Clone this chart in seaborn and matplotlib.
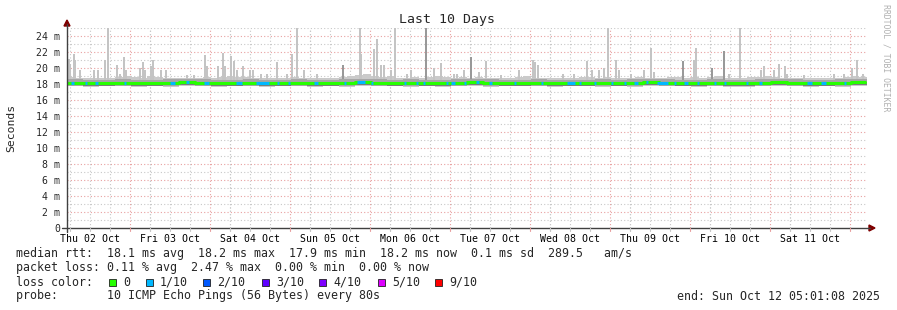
import numpy as np
import pandas as pd
import matplotlib
matplotlib.use("Agg")
import matplotlib.pyplot as plt
from matplotlib.patches import Polygon, Rectangle
from matplotlib.lines import Line2D
import seaborn as sns

# ---------------- data (hours since start: Thu 02 Oct 05:01:08) ----------------
day_labels = ["Thu 02 Oct", "Fri 03 Oct", "Sat 04 Oct", "Sun 05 Oct", "Mon 06 Oct",
              "Tue 07 Oct", "Wed 08 Oct", "Thu 09 Oct", "Fri 10 Oct", "Sat 11 Oct"]
first_midnight_h = 18.981          # Fri 03 Oct 00:00 relative to start
y_ticks_ms = [0, 2, 4, 6, 8, 10, 12, 14, 16, 18, 20, 24, 22]

# upper edge of the typical smoke (100 bins of 2.4 h), ms
smoke_hi = [18.9, 18.8, 18.7, 18.7, 18.8, 18.8, 18.9, 19.0, 18.9, 18.8,
            19.0, 18.9, 18.8, 18.8, 18.7, 18.7, 18.8, 18.9, 18.8, 18.9,
            19.0, 18.9, 18.9, 18.8, 18.8, 18.8, 18.7, 18.8, 18.9, 18.8,
            18.7, 18.8, 18.8, 18.7, 18.9, 19.0, 19.1, 19.2, 19.0, 18.9,
            19.0, 18.8, 18.8, 18.9, 18.8, 18.9, 19.0, 18.9, 18.8, 18.9,
            18.8, 18.9, 18.8, 18.7, 18.7, 18.8, 18.9, 19.0, 18.8, 18.7,
            18.7, 18.7, 18.8, 18.8, 18.9, 18.9, 18.8, 18.9, 18.8, 18.8,
            18.8, 18.9, 18.8, 18.7, 18.8, 18.9, 18.9, 18.8, 18.9, 18.8,
            18.9, 19.0, 18.8, 18.8, 18.7, 18.9, 18.9, 19.0, 18.9, 18.8,
            18.8, 18.7, 18.8, 18.7, 18.8, 18.8, 18.8, 18.9, 19.0, 18.9]

# lower edge of the smoke and median rtt (50 bins of 4.8 h), ms
smoke_lo = [17.70, 17.65, 17.70, 17.70, 17.65, 17.70, 17.60, 17.70, 17.70, 17.65,
            17.70, 17.70, 17.65, 17.70, 17.70, 17.60, 17.70, 17.65, 17.70, 17.70,
            17.70, 17.65, 17.70, 17.60, 17.70, 17.70, 17.65, 17.70, 17.70, 17.70,
            17.65, 17.70, 17.70, 17.60, 17.70, 17.65, 17.70, 17.70, 17.70, 17.65,
            17.70, 17.60, 17.65, 17.70, 17.70, 17.70, 17.65, 17.70, 17.60, 17.70]
median_ms = [18.15, 18.10, 18.10, 18.15, 18.10, 18.10, 18.15, 18.20, 18.15, 18.10,
             18.10, 18.15, 18.10, 18.10, 18.15, 18.10, 18.10, 18.15, 18.20, 18.15,
             18.10, 18.15, 18.10, 18.10, 18.15, 18.20, 18.15, 18.10, 18.10, 18.15,
             18.10, 18.10, 18.10, 18.15, 18.10, 18.15, 18.20, 18.15, 18.10, 18.10,
             18.15, 18.10, 18.10, 18.15, 18.20, 18.15, 18.10, 18.10, 18.15, 18.20]

# outlier pings (light smoke spikes): time (h), max rtt (ms)
spike_h = [0.6, 0.9, 2.1, 2.4, 3.9, 8.1, 9.3, 11.4, 12.3, 15.0, 15.9, 17.1, 17.7,
           21.9, 22.8, 23.4, 25.2, 25.8, 28.2, 29.7, 36.0, 38.1, 41.4, 42.0, 45.3,
           46.8, 47.4, 49.2, 50.1, 51.0, 52.8, 54.9, 55.8, 58.2,
           60.0, 63.0, 66.0, 67.5, 69.0, 71.1, 75.0, 87.9, 88.2, 92.1, 93.0,
           94.2, 95.1, 97.2, 98.4, 102.0, 103.2, 110.1, 112.2, 116.1, 117.0, 119.1,
           123.6, 125.7, 130.2, 135.6, 139.8, 140.4, 141.3, 148.8, 152.1, 156.0,
           157.5, 159.6, 161.1, 162.3, 164.7, 165.6, 169.2, 173.1, 175.2, 176.1,
           188.1, 188.7, 198.6, 201.9, 208.2, 209.1, 212.1, 213.6, 215.4, 216.0,
           221.1, 230.1, 233.1, 235.5, 237.0, 238.8]
spike_ms = [21.1, 20.5, 21.75, 21.0, 19.75, 19.75, 19.75, 21.0, 25.0, 20.4, 19.3, 21.4, 19.75,
            20.0, 20.75, 19.75, 20.2, 21.0, 19.75, 19.75, 19.1, 19.1, 21.6, 20.2, 20.2,
            21.9, 20.3, 21.5, 20.9, 19.75, 20.3, 19.75, 19.75, 19.3,
            19.3, 20.75, 19.3, 21.75, 25.0, 19.75, 19.3, 25.0, 21.75, 22.4, 23.6,
            20.4, 20.4, 19.75, 25.0, 19.3, 19.75, 20.0, 20.6, 19.3, 19.3, 19.75,
            19.5, 20.9, 19.1, 19.75, 21.0, 20.75, 20.4, 19.3, 19.3, 20.9,
            19.75, 19.75, 20.0, 25.0, 21.0, 19.75, 19.3, 19.75, 22.5, 19.5,
            21.0, 22.5, 19.3, 25.0, 19.75, 20.2, 19.75, 20.5, 20.25, 19.3,
            19.1, 19.3, 19.3, 20.0, 21.0, 19.3]

# darker smoke spikes: time (h), max rtt (ms)
dark_spike_h = [82.8, 107.7, 121.2, 184.8, 193.5, 197.1]
dark_spike_ms = [20.4, 25.0, 21.4, 20.9, 20.0, 22.1]

# periods with 1/10 packet loss: start (h), end (h)
loss1_start = [1.2, 5.4, 8.4, 17.1, 30.9, 35.7, 41.1, 50.7, 56.7, 63.0, 66.3, 74.1,
               83.1, 87.0, 91.2, 101.1, 104.7, 106.8, 113.7, 115.2, 119.1, 122.7,
               126.6, 134.1, 142.2, 150.0, 153.6, 158.1, 163.2, 167.1, 170.1, 173.7,
               177.0, 182.1, 185.1, 189.0, 194.1, 197.1, 203.7, 207.6, 222.0, 226.2, 233.1]
loss1_end = [2.1, 6.0, 9.3, 17.7, 32.4, 36.6, 42.6, 52.5, 60.6, 63.6, 66.9, 75.3,
             83.7, 89.4, 91.8, 101.7, 105.3, 107.4, 114.3, 116.4, 119.7, 123.6,
             127.5, 134.7, 142.8, 152.4, 154.2, 158.7, 163.8, 167.7, 171.3, 174.3,
             180.3, 182.7, 186.3, 189.6, 194.7, 197.7, 204.3, 208.5, 223.5, 227.7, 233.7]

loss_labels = ["0", "1/10", "2/10", "3/10", "4/10", "5/10", "9/10"]
loss_colors = ["#26ff00", "#00b8ff", "#0059ff", "#5e00ff", "#7e00ff", "#dd00ff", "#ff0000"]

stats_rtt = "median rtt:  18.1 ms avg  18.2 ms max  17.9 ms min  18.2 ms now  0.1 ms sd  289.5   am/s"
stats_loss = "packet loss: 0.11 % avg  2.47 % max  0.00 % min  0.00 % now"
probe_text = "probe:       10 ICMP Echo Pings (56 Bytes) every 80s"
end_text = "end: Sun Oct 12 05:01:08 2025"

# ---------------- figure ----------------
sns.set_style("white")
plt.rcParams['font.family'] = ['DejaVu Sans Mono', 'DejaVu Sans']

W, H = 897, 310
fig = plt.figure(figsize=(W / 100, H / 100), dpi=100)
fig.patch.set_facecolor("white")


def fx(x):
    return x / W


def fy(y):
    return 1 - y / H


ax = fig.add_axes([fx(67), fy(228), 800 / W, 200 / H])
ax.set_xlim(0, 240)
ax.set_ylim(0, 25)
for s in ax.spines.values():
    s.set_visible(False)

# grid
grid_minor = "#c8c8c8"
grid_major = "#e8a0a0"
for v in range(1, 26, 2):
    ax.axhline(v, color=grid_minor, lw=0.8, ls=(0, (1, 2)), zorder=0)
for v in range(2, 25, 2):
    ax.axhline(v, color=grid_major, lw=0.8, ls=(0, (1, 2)), zorder=0)
mid_h = [first_midnight_h + 24 * k for k in range(10)]
for m in mid_h:
    for d in (-18, -12, -6, 6):
        t = m + d
        if 0 < t < 240 and not any(abs(t - mm) < 0.01 for mm in mid_h):
            ax.axvline(t, color=grid_minor, lw=0.8, ls=(0, (1, 2)), zorder=0)
    ax.axvline(m, color=grid_major, lw=0.8, ls=(0, (1, 2)), zorder=0)

# smoke
hi_bins = len(smoke_hi)
bw = 240 / hi_bins
hi_x = np.arange(hi_bins) * bw + bw / 2
lo_rep = np.repeat(smoke_lo, hi_bins // len(smoke_lo))
med_rep = np.repeat(median_ms, hi_bins // len(median_ms))
ax.bar(hi_x, np.array(smoke_hi) - lo_rep, bottom=lo_rep, width=bw,
       color="#cacaca", linewidth=0, zorder=1)

# spikes
sp_h = np.array(spike_h)
sp_ms = np.array(spike_ms)
sp_w = np.where(sp_ms >= 24.9, 0.35, 0.7)
base_sp = np.array([med_rep[min(int(t // bw), hi_bins - 1)] for t in sp_h])
ax.bar(sp_h, sp_ms - base_sp, bottom=base_sp, width=sp_w,
       color="#c4c4c4", linewidth=0, zorder=1.5)
dk_h = np.array(dark_spike_h)
dk_ms = np.array(dark_spike_ms)
base_dk = np.array([med_rep[min(int(t // bw), hi_bins - 1)] for t in dk_h])
ax.bar(dk_h, dk_ms - base_dk, bottom=base_dk, width=0.45,
       color="#999999", linewidth=0, zorder=1.6)

# inner smoke
ax.bar(hi_x, np.full(hi_bins, 0.8), bottom=med_rep - 0.35, width=bw,
       color="#a6a6a6", linewidth=0, zorder=2)
ax.bar(hi_x, np.full(hi_bins, 0.25), bottom=med_rep - 0.33, width=bw,
       color="#7c7c7c", linewidth=0, zorder=2.1)

# median line (loss 0 = green)
med_bins = len(median_ms)
mw = 240 / med_bins
med_df = pd.DataFrame({"h": list(np.arange(med_bins) * mw) + [239.4],
                       "ms": median_ms + [median_ms[-1]]})
sns.lineplot(data=med_df, x="h", y="ms", drawstyle="steps-post",
             color=loss_colors[0], linewidth=2.2, ax=ax, zorder=3)
for s, e in zip(loss1_start, loss1_end):
    yv = median_ms[min(int(((s + e) / 2) // mw), med_bins - 1)]
    ax.hlines(yv, s, e, color=loss_colors[1], lw=2.2, zorder=3.1)

# ticks
ax.set_xlabel("")
ax.set_ylabel("")
noon_h = [first_midnight_h - 12 + 24 * k for k in range(10)]
ax.set_xticks(noon_h)
ax.set_xticklabels(day_labels, fontsize=7.1, color="#000000")
ax.tick_params(axis="x", length=0, pad=4)
yt = sorted(y_ticks_ms)
ax.set_yticks(yt)
ax.set_yticklabels(["0" if v == 0 else f"{v} m" for v in yt], fontsize=7.1)
ax.tick_params(axis="y", length=3.6, width=0.8, color="#404040", pad=1.5, direction="out")

# axis lines with arrows
axis_col = "#404040"
arrow_col = "#7f0000"
fig.add_artist(Line2D([fx(67), fx(67)], [fy(232), fy(24)], color=axis_col, lw=1.0,
                      transform=fig.transFigure))
fig.add_artist(Line2D([fx(62), fx(870)], [fy(228), fy(228)], color=axis_col, lw=1.0,
                      transform=fig.transFigure))
fig.add_artist(Polygon([[fx(64), fy(26)], [fx(70), fy(26)], [fx(67), fy(20)]],
                       closed=True, color=arrow_col, transform=fig.transFigure))
fig.add_artist(Polygon([[fx(869), fy(225)], [fx(869), fy(231)], [fx(875), fy(228)]],
                       closed=True, color=arrow_col, transform=fig.transFigure))
# small x ticks under the axis
for m in mid_h:
    for d in (-18, -12, -6, 0, 6):
        t = m + d
        if 0 < t < 240:
            xp = 67 + t / 0.3
            c = grid_major if d == 0 else grid_minor
            fig.add_artist(Line2D([fx(xp), fx(xp)], [fy(228), fy(230.5)], color=c,
                                  lw=0.8, transform=fig.transFigure))

# titles
fig.text(fx(447), fy(19.5), "Last 10 Days", ha="center", va="center", fontsize=9.5)
fig.text(fx(11), fy(128), "Seconds", ha="center", va="center", rotation=90, fontsize=8.2)
fig.text(fx(886), fy(4), "RRDTOOL / TOBI OETIKER", ha="center", va="top",
         rotation=270, fontsize=5.9, color="#b0b0b0")

# legend / stats
fs = 8.37
fig.text(fx(16), fy(254), stats_rtt, ha="left", va="center", fontsize=fs)
fig.text(fx(16), fy(268), stats_loss, ha="left", va="center", fontsize=fs)
fig.text(fx(16), fy(282), "loss color:", ha="left", va="center", fontsize=fs)
sw_x = [109, 146, 203, 262, 319, 378, 435]
for xs, lab, col in zip(sw_x, loss_labels, loss_colors):
    fig.add_artist(Rectangle((fx(xs), fy(286)), 7 / W, 7 / H, facecolor=col,
                             edgecolor="#202020", lw=0.6, transform=fig.transFigure))
    fig.text(fx(xs + 14), fy(282), lab, ha="left", va="center", fontsize=fs)
fig.text(fx(16), fy(296), probe_text, ha="left", va="center", fontsize=fs)
fig.text(fx(880), fy(296), end_text, ha="right", va="center", fontsize=fs)

fig.savefig("out.png", dpi=100, facecolor="white")
